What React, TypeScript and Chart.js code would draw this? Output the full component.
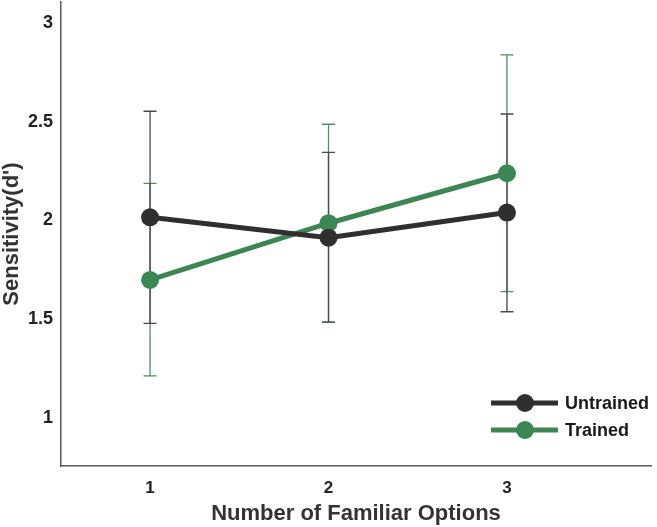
import React, { useEffect, useRef } from "react";
import { Chart, registerables } from "chart.js";

Chart.register(...registerables);

const categories = [1, 2, 3];
const untrainedMean = [2.016, 1.913, 2.04];
const untrainedLow = [1.479, 1.485, 1.538];
const untrainedHigh = [2.553, 2.345, 2.539];
const trainedMean = [1.699, 1.986, 2.239];
const trainedLow = [1.213, 1.485, 1.64];
const trainedHigh = [2.188, 2.487, 2.838];
const yTicks = [1, 1.5, 2, 2.5, 3];
const seriesNames = ["Untrained", "Trained"];

const DARK = "#2f2f2f";
const GREEN = "#3b8653";
const FONT = "'Liberation Sans', Arial, Helvetica, sans-serif";

export default function App() {
  const ref = useRef<HTMLCanvasElement>(null);
  useEffect(() => {
    document.body.style.margin = "0";
    const canvas = ref.current!;
    const errorBars = {
      id: "errorBars",
      beforeDatasetsDraw(chart: any) {
        const ctx = chart.ctx;
        const xs = chart.scales.x;
        const ys = chart.scales.y;
        const sets = [
          { lo: trainedLow, hi: trainedHigh, color: "#4d8f63" },
          { lo: untrainedLow, hi: untrainedHigh, color: "#4a4a4a" },
        ];
        ctx.save();
        ctx.lineWidth = 1.3;
        sets.forEach((s) => {
          ctx.strokeStyle = s.color;
          categories.forEach((c, i) => {
            const x = xs.getPixelForValue(c);
            const y1 = ys.getPixelForValue(s.lo[i]);
            const y2 = ys.getPixelForValue(s.hi[i]);
            ctx.beginPath();
            ctx.moveTo(x, y1);
            ctx.lineTo(x, y2);
            ctx.moveTo(x - 6.5, y1);
            ctx.lineTo(x + 6.5, y1);
            ctx.moveTo(x - 6.5, y2);
            ctx.lineTo(x + 6.5, y2);
            ctx.stroke();
          });
        });
        ctx.restore();
      },
      afterDraw(chart: any) {
        const ctx = chart.ctx;
        const colors = [DARK, GREEN];
        const ys = [403, 430];
        ctx.save();
        seriesNames.forEach((name, i) => {
          const y = ys[i];
          ctx.strokeStyle = colors[i];
          ctx.lineWidth = 5;
          ctx.beginPath();
          ctx.moveTo(491, y);
          ctx.lineTo(558, y);
          ctx.stroke();
          ctx.fillStyle = colors[i];
          ctx.beginPath();
          ctx.arc(525, y, 9, 0, Math.PI * 2);
          ctx.fill();
          ctx.fillStyle = "#1a1a1a";
          ctx.font = `bold 18px ${FONT}`;
          ctx.textBaseline = "middle";
          ctx.textAlign = "left";
          ctx.fillText(name, 565, y + 1);
        });
        ctx.restore();
      },
    };

    const chart = new Chart(canvas, {
      type: "line",
      data: {
        datasets: [
          {
            label: seriesNames[0],
            data: categories.map((c, i) => ({ x: c, y: untrainedMean[i] })),
            borderColor: DARK,
            backgroundColor: DARK,
            borderWidth: 5,
            pointRadius: 9,
            pointBorderWidth: 0,
          },
          {
            label: seriesNames[1],
            data: categories.map((c, i) => ({ x: c, y: trainedMean[i] })),
            borderColor: GREEN,
            backgroundColor: GREEN,
            borderWidth: 5,
            pointRadius: 9,
            pointBorderWidth: 0,
          },
        ],
      },
      options: {
        animation: false,
        responsive: false,
        devicePixelRatio: 1,
        layout: { autoPadding: false, padding: { top: 2, right: 6, left: 0, bottom: 0 } },
        plugins: { legend: { display: false }, tooltip: { enabled: false } },
        scales: {
          x: {
            type: "linear",
            min: 0.501,
            max: 3.807,
            afterBuildTicks: (s: any) => {
              s.ticks = categories.map((v) => ({ value: v }));
            },
            afterFit: (s: any) => {
              s.height = 61;
              s.paddingLeft = 0;
              s.paddingRight = 0;
            },
            grid: { display: false, drawTicks: false },
            border: { display: true, color: "#5a5a5a", width: 1.5 },
            ticks: {
              padding: 12,
              color: "#222",
              font: { family: FONT, size: 17, weight: "bold" },
              callback: (v: any) => String(v),
            },
            title: {
              display: true,
              text: "Number of Familiar Options",
              color: "#333",
              font: { family: FONT, size: 22, weight: "bold" },
              padding: { top: 0, bottom: 0 },
            },
          },
          y: {
            min: 0.757,
            max: 3.106,
            afterBuildTicks: (s: any) => {
              s.ticks = yTicks.map((v) => ({ value: v }));
            },
            afterFit: (s: any) => {
              s.width = 61;
              s.paddingTop = 0;
              s.paddingBottom = 0;
            },
            grid: { display: false, drawTicks: false },
            border: { display: true, color: "#5a5a5a", width: 1.5 },
            ticks: {
              padding: 8,
              color: "#222",
              font: { family: FONT, size: 18, weight: "bold" },
              callback: (v: any) => String(v),
            },
            title: {
              display: true,
              text: "Sensitivity(d')",
              color: "#333",
              font: { family: FONT, size: 22, weight: "bold" },
              padding: { top: -1, bottom: 0 },
            },
          },
        },
      },
      plugins: [errorBars],
    } as any);
    return () => chart.destroy();
  }, []);
  return <canvas ref={ref} width={657} height={527} style={{ display: "block" }} />;
}
